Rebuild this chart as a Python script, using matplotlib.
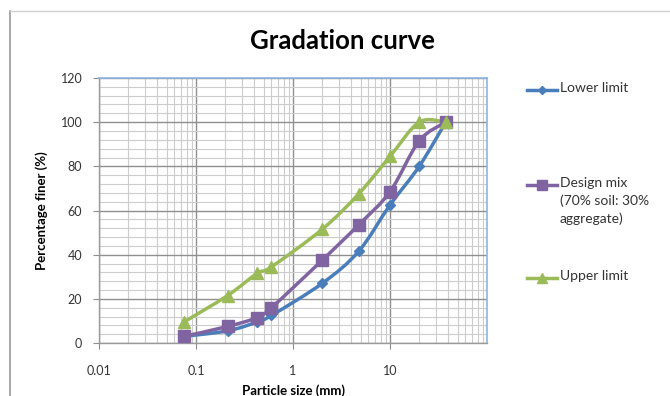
import numpy as np
import matplotlib
matplotlib.use("Agg")
import matplotlib.pyplot as plt
from matplotlib.path import Path
from matplotlib.patches import PathPatch
from matplotlib.lines import Line2D
from matplotlib.ticker import LogLocator, FixedLocator, NullFormatter

plt.rcParams['font.family'] = ['Lato', 'DejaVu Sans']

# sieve sizes (mm) and percent passing
sizes = [0.075, 0.212, 0.425, 0.6, 2.0, 4.75, 10.0, 20.0, 37.5]
lower_limit = [3, 5.5, 9.5, 12.5, 27, 41.5, 62.5, 80, 100]
design_mix = [3, 7.5, 11.5, 16, 37.5, 53.5, 68.5, 91.5, 100]
upper_limit = [9.5, 21.5, 31.5, 34.5, 51.5, 67.5, 84.5, 100, 100]

series_names = ['Lower limit', 'Design mix\n(70% soil: 30%\naggregate)', 'Upper limit']
colors = ['#4a7ebb', '#8064a2', '#9bbb59']
markers = ['D', 's', '^']
msizes = [5.5, 8.5, 8.5]

x_ticks = [0.01, 0.1, 1, 10]
x_ticklabels = ['0.01', '0.1', '1', '10']
y_ticks = [0, 20, 40, 60, 80, 100, 120]


def smooth_path(xs, ys):
    # Excel-style smoothed line: cubic Bezier through points in (log x, y) space
    u = np.log10(np.asarray(xs, dtype=float))
    v = np.asarray(ys, dtype=float)
    P = np.column_stack([u, v])
    n = len(P)
    verts = [P[0]]
    codes = [Path.MOVETO]
    for i in range(n - 1):
        p_prev = P[max(i - 1, 0)]
        p_next2 = P[min(i + 2, n - 1)]
        c1 = P[i] + (P[i + 1] - p_prev) / 6.0
        c2 = P[i + 1] - (p_next2 - P[i]) / 6.0
        verts += [c1, c2, P[i + 1]]
        codes += [Path.CURVE4] * 3
    verts = np.array(verts)
    verts[:, 0] = 10 ** verts[:, 0]
    return Path(verts, codes)


fig = plt.figure(figsize=(6.7, 3.96), dpi=100)
ax = fig.add_axes([99 / 670, 1 - 343 / 396, 388 / 670, 265 / 396])

ax.set_xscale('log')
ax.set_xlim(0.01, 100)
ax.set_ylim(0, 120)

ax.xaxis.set_major_locator(FixedLocator(x_ticks))
ax.set_xticklabels(x_ticklabels)
ax.xaxis.set_minor_locator(LogLocator(base=10, subs=np.arange(2, 10)))
ax.xaxis.set_minor_formatter(NullFormatter())
ax.set_yticks(y_ticks)
ax.yaxis.set_minor_locator(FixedLocator(np.arange(0, 121, 4)))

ax.grid(which='major', color='#8f8f8f', linewidth=1.0)
ax.grid(which='minor', color='#cccccc', linewidth=0.8)
ax.set_axisbelow(True)

ax.tick_params(which='major', direction='out', length=4, color='#8c8c8c',
               labelsize=9, labelcolor='#333333', pad=8)
ax.tick_params(which='minor', length=0)
ax.tick_params(axis='x', which='major', pad=12, length=4)

for side in ['left', 'bottom']:
    ax.spines[side].set_color('#9a9a9a')
    ax.spines[side].set_linewidth(1.0)
for side in ['top', 'right']:
    ax.spines[side].set_color('#8eb4e3')
    ax.spines[side].set_linewidth(1.2)

all_series = [lower_limit, design_mix, upper_limit]
for vals, c, m, ms in zip(all_series, colors, markers, msizes):
    ax.add_patch(PathPatch(smooth_path(sizes, vals), facecolor='none',
                           edgecolor=c, linewidth=2.5, zorder=3,
                           capstyle='round', joinstyle='round'))
    ax.plot(sizes, vals, linestyle='none', marker=m, markersize=ms,
            color=c, zorder=4)

fig.text(342 / 670, 1 - 41 / 396, 'Gradation curve', fontsize=18.5,
         fontweight='bold', ha='center', va='center')
ax.set_xlabel('Particle size (mm)', fontsize=9.5, fontweight='bold', labelpad=5)
ax.set_ylabel('Percentage finer (%)', fontsize=9.5, fontweight='bold', labelpad=9)

# legend drawn by hand, entries spaced like the original
leg_y = [90, 185, 278]
for name, c, m, ms, yy in zip(series_names, colors, markers, msizes, leg_y):
    fy = 1 - yy / 396
    fig.add_artist(Line2D([527 / 670, 557 / 670], [fy, fy], color=c,
                          linewidth=2.5, transform=fig.transFigure))
    fig.add_artist(Line2D([542 / 670], [fy], color=c, marker=m,
                          markersize=ms * 0.8, transform=fig.transFigure))
    fig.text(560 / 670, fy + 8 / 396, name, fontsize=10, va='top',
             ha='left', color='#333333', linespacing=1.5)

# chart area border remnants
fig.add_artist(Line2D([10 / 670, 10 / 670], [0, 1 - 11 / 396], color='#9a9a9a',
                      linewidth=1.2, transform=fig.transFigure))
fig.add_artist(Line2D([10 / 670, 1], [1 - 11 / 396, 1 - 11 / 396], color='#d0d0d0',
                      linewidth=1.0, transform=fig.transFigure))

fig.savefig('out.png', dpi=100)
